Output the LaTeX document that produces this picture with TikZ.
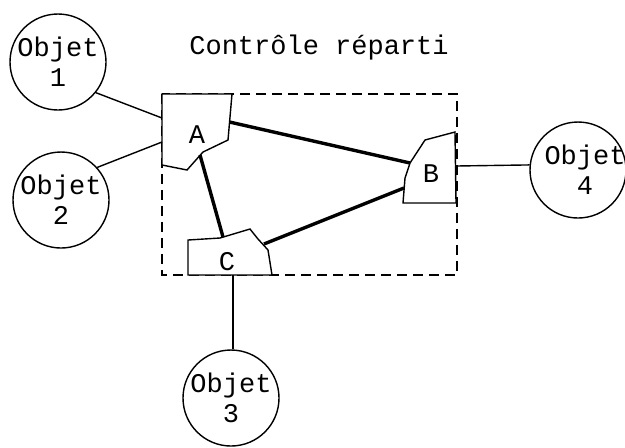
\documentclass[tikz,border=0pt]{standalone}
\usepackage{fontspec}
\setmonofont{Liberation Mono}
\usepackage{tikz}
\usetikzlibrary{calc,positioning}
\tikzstyle{objet} = [circle, draw=black, line width=0.7pt, minimum size=48pt,
    inner sep=0pt, align=center, font=\ttfamily\fontsize{13.5}{15}\selectfont]
\tikzstyle{poste} = [draw=black, fill=white, line width=0.7pt]
\tikzstyle{lettre} = [font=\ttfamily\fontsize{13.5}{15}\selectfont, align=center]
\tikzstyle{lien} = [line width=0.7pt]
\tikzstyle{liaison} = [line width=1.7pt]
\tikzstyle{cadre} = [line width=0.8pt, dash pattern=on 5pt off 3pt]

\begin{document}
\begin{tikzpicture}[x=0.5pt, y=-0.5pt]
        \useasboundingbox (0,0) rectangle (625,447);
        \node (titre) [lettre] at (319,48) {Contrôle réparti};
        \draw [cadre] (162,94) rectangle (457,275);
        \node (objet1) [objet] at (58,62) {Objet\\1};
        \node (objet2) [objet] at (61,200) {Objet\\2};
        \node (objet3) [objet] at (231,398) {Objet\\3};
        \node (objet4) [objet] at (578,170) {};
        \node (texte4) [lettre] at (585,170) {Objet\\4};
        \draw [poste] (162,94) -- (232,94) -- (228,140) -- (203,152) -- (187,170) -- (162,165) -- cycle;
        \draw [poste] (425,140) -- (455,132) -- (456,203) -- (403,203) -- (405,178) -- (410,163) -- cycle;
        \draw [poste] (188,240) -- (220,238) -- (250,229) -- (258,239) -- (268,250) -- (272,275) -- (188,275) -- cycle;
        \node (A) [lettre] at (197,135) {A};
        \node (B) [lettre] at (431,174) {B};
        \node (C) [lettre] at (227,262) {C};
        \coordinate (a1) at (162,118);
        \coordinate (a2) at (162,142);
        \coordinate (ab) at (229.5,122);
        \coordinate (ac) at (200,155);
        \coordinate (ba) at (410,163);
        \coordinate (bc) at (404,188);
        \coordinate (b4) at (456,166);
        \coordinate (ca) at (223,237);
        \coordinate (cb) at (264,244);
        \coordinate (c3) at (233,275);
        \draw [lien] (objet1.-39) -- (a1);
        \draw [lien] (objet2.42) -- (a2);
        \draw [lien] (b4) -- (objet4.174);
        \draw [lien] (c3) -- (c3 |- objet3.north);
        \draw [liaison] (ab) -- (ba);
        \draw [liaison] (ac) -- (ca);
        \draw [liaison] (cb) -- (bc);
    \end{tikzpicture}
\end{document}
